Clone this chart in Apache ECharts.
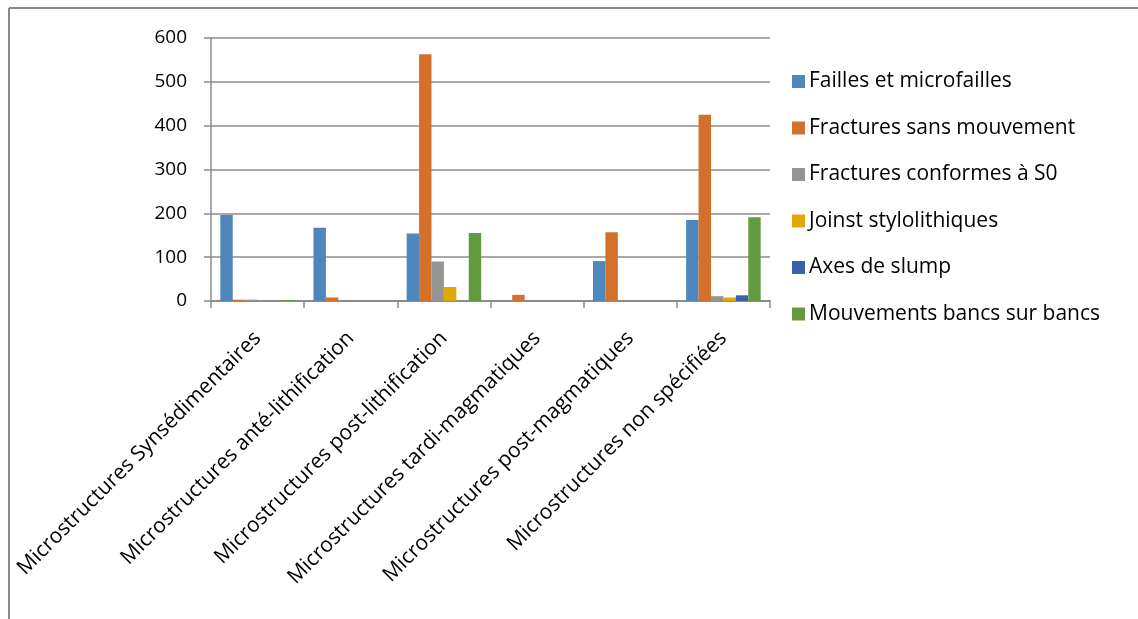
<!DOCTYPE html>
<html>
<head>
<meta charset="utf-8">
<script src="https://cdn.jsdelivr.net/npm/echarts@6/dist/echarts.min.js"></script>
<style>
  html, body { margin: 0; padding: 0; background: #ffffff; }
  #chart { width: 1138px; height: 619px; }
</style>
</head>
<body>
<div id="chart"></div>
<script>
// Categories of microstructures
const categories = [
  'Microstructures Synsédimentaires',
  'Microstructures anté-lithification',
  'Microstructures post-lithification',
  'Microstructures tardi-magmatiques',
  'Microstructures post-magmatiques',
  'Microstructures non spécifiées'
];

// Counts per microstructure type
const faillesMicrofailles   = [196, 167, 154, 0, 91, 185];
const fracturesSansMouv     = [3, 8, 563, 14, 157, 425];
const fracturesConformesS0  = [3, 0, 90, 0, 0, 11];
const jointsStylolithiques  = [0, 0, 32, 0, 0, 8];
const axesDeSlump           = [0, 0, 0, 0, 0, 13];
const mouvementsBancs       = [2, 0, 155, 0, 0, 191];

const seriesNames = [
  'Failles et microfailles',
  'Fractures sans mouvement',
  'Fractures conformes à S0',
  'Joinst stylolithiques',
  'Axes de slump',
  'Mouvements bancs sur bancs'
];
const seriesData = [
  faillesMicrofailles, fracturesSansMouv, fracturesConformesS0,
  jointsStylolithiques, axesDeSlump, mouvementsBancs
];
const colors = ['#4F86BD', '#D3702B', '#949494', '#E0A800', '#3A62AC', '#639B3E'];

const yTicks = { min: 0, max: 600, interval: 100 };

const FONT = '"Open Sans", Lato, sans-serif';

const chart = echarts.init(document.getElementById('chart'), null, { renderer: 'canvas' });

chart.setOption({
  animation: false,
  backgroundColor: '#ffffff',
  textStyle: { fontFamily: FONT },
  graphic: [
    { type: 'line', shape: { x1: 9, y1: 8, x2: 1138, y2: 8 }, style: { stroke: '#8a8a8a', lineWidth: 2 } },
    { type: 'line', shape: { x1: 9, y1: 8, x2: 9, y2: 619 }, style: { stroke: '#8a8a8a', lineWidth: 2 } }
  ],
  grid: { left: 211, right: 368, top: 38, bottom: 318, containLabel: false },
  legend: {
    orient: 'vertical',
    left: 792,
    top: 71,
    padding: 0,
    itemWidth: 13,
    itemHeight: 13,
    itemGap: 25.5,
    icon: 'rect',
    textStyle: { fontFamily: FONT, fontSize: 21, lineHeight: 20, color: '#000000', padding: [0, 0, 0, -1] },
    data: seriesNames
  },
  xAxis: {
    type: 'category',
    data: categories,
    axisLine: { lineStyle: { color: '#8c8c8c', width: 2 } },
    axisTick: { show: true, length: 7, lineStyle: { color: '#8c8c8c', width: 1.5 } },
    axisLabel: {
      rotate: 45,
      interval: 0,
      margin: 34,
      fontFamily: FONT,
      fontSize: 21,
      color: '#000000'
    }
  },
  yAxis: {
    type: 'value',
    min: yTicks.min,
    max: yTicks.max,
    interval: yTicks.interval,
    axisLine: { show: true, lineStyle: { color: '#8c8c8c', width: 1.5 } },
    axisTick: { show: true, length: 7, lineStyle: { color: '#8c8c8c', width: 1.5 } },
    splitLine: { lineStyle: { color: '#8c8c8c', width: 1.5 } },
    axisLabel: { margin: 24, fontFamily: FONT, fontSize: 19, color: '#000000' }
  },
  series: seriesNames.map((name, i) => ({
    name,
    type: 'bar',
    data: seriesData[i],
    barGap: '0%',
    barCategoryGap: '20%',
    itemStyle: { color: colors[i] }
  }))
});
</script>
</body>
</html>
